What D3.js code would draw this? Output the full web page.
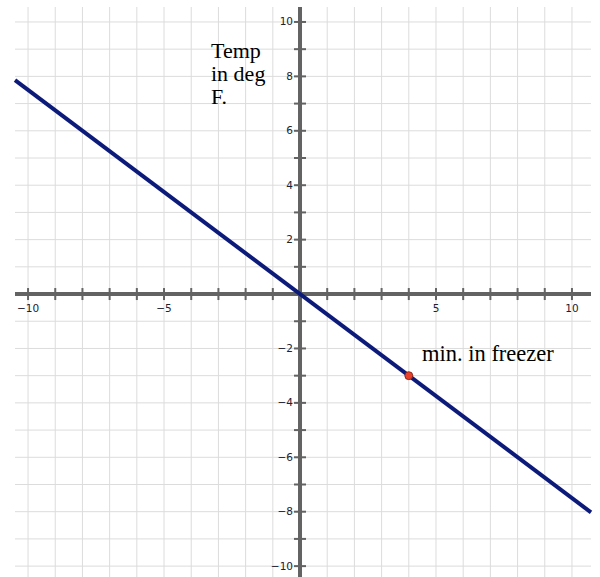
<!doctype html>
<html>
<head>
    <script src="https://d3js.org/d3.v7.min.js"></script>
    <style>
        body { margin: 0; background: #fff; }
    </style>
</head>
<body>
    <script>
        // window of the graph (x = minutes, y = temperature)
        let xWindow = [-10.48, 10.7];
        let yWindow = [10.55, -10.4];
        let gridSteps = d3.range(-10, 11, 1);
        let xLabels = [-10, -5, 5, 10];
        let yLabels = [-10, -8, -6, -4, -2, 2, 4, 6, 8, 10];
        // line y = -0.75 x, drawn across the window
        let lineX = [-10.48, 10.7];
        let lineY = [7.86, -8.025];
        let pointX = [4];
        let pointY = [-3];
        let yTitle = ["Temp", "in deg", "F."];
        let xTitle = "min. in freezer";

        let x = d3.scaleLinear().domain(xWindow).range([15, 591]);
        let y = d3.scaleLinear().domain(yWindow).range([7, 577]);

        let svg = d3.select("body").append("svg")
                    .attr("width", 600).attr("height", 577);

        // grid
        svg.append("g").selectAll("line").data(gridSteps).enter().append("line")
            .attr("x1", function(d){return x(d);}).attr("x2", function(d){return x(d);})
            .attr("y1", y(yWindow[0])).attr("y2", y(yWindow[1]))
            .style("stroke", "#dcdcdc").style("stroke-width", 1);
        svg.append("g").selectAll("line").data(gridSteps).enter().append("line")
            .attr("y1", function(d){return y(d);}).attr("y2", function(d){return y(d);})
            .attr("x1", x(xWindow[0])).attr("x2", x(xWindow[1]))
            .style("stroke", "#dcdcdc").style("stroke-width", 1);

        // axes
        let axisColor = "#636363";
        svg.append("line")
            .attr("x1", x(xWindow[0])).attr("x2", x(xWindow[1]))
            .attr("y1", y(0)).attr("y2", y(0))
            .style("stroke", axisColor).style("stroke-width", 4);
        svg.append("line")
            .attr("x1", x(0)).attr("x2", x(0))
            .attr("y1", y(yWindow[0])).attr("y2", y(yWindow[1]))
            .style("stroke", axisColor).style("stroke-width", 4);

        let ticks = gridSteps.filter(function(d){return d !== 0;});
        svg.append("g").selectAll("line").data(ticks).enter().append("line")
            .attr("x1", function(d){return x(d);}).attr("x2", function(d){return x(d);})
            .attr("y1", y(0) - 6).attr("y2", y(0) + 6)
            .style("stroke", axisColor).style("stroke-width", 2);
        svg.append("g").selectAll("line").data(ticks).enter().append("line")
            .attr("y1", function(d){return y(d);}).attr("y2", function(d){return y(d);})
            .attr("x1", x(0) - 6).attr("x2", x(0) + 6)
            .style("stroke", axisColor).style("stroke-width", 2);

        let fmt = function(d){return d < 0 ? "\u2212" + Math.abs(d) : String(d);};
        svg.append("g").selectAll("text").data(xLabels).enter().append("text")
            .attr("x", function(d){return x(d);})
            .attr("y", y(0) + 18)
            .attr("text-anchor", "middle")
            .style("font", "10.5px 'DejaVu Sans'").style("fill", "#1a2233")
            .text(fmt);
        svg.append("g").selectAll("text").data(yLabels).enter().append("text")
            .attr("x", x(0) - 7)
            .attr("y", function(d){return y(d) + 3.5;})
            .attr("text-anchor", "end")
            .style("font", "10.5px 'DejaVu Sans'").style("fill", "#1a2233")
            .text(fmt);

        // the line and the marked point
        let pts = lineX.map(function(d, i){return [d, lineY[i]];});
        svg.append("path")
            .attr("d", d3.line().x(function(d){return x(d[0]);}).y(function(d){return y(d[1]);})(pts))
            .style("fill", "none").style("stroke", "#0c1a7a").style("stroke-width", 4);
        svg.append("g").selectAll("circle").data(pointX).enter().append("circle")
            .attr("cx", function(d){return x(d);})
            .attr("cy", function(d, i){return y(pointY[i]);})
            .attr("r", 4)
            .style("fill", "#e8402a").style("stroke", "#7a1a10").style("stroke-width", 0.8);

        // titles
        svg.append("g").selectAll("text").data(yTitle).enter().append("text")
            .attr("x", 211)
            .attr("y", function(d, i){return 58 + i * 23;})
            .style("font", "22px 'Liberation Serif'").style("fill", "#000")
            .text(function(d){return d;});
        svg.append("text")
            .attr("x", 422).attr("y", 361)
            .style("font", "22.5px 'Liberation Serif'").style("fill", "#000")
            .text(xTitle);
    </script>
</body>
</html>
